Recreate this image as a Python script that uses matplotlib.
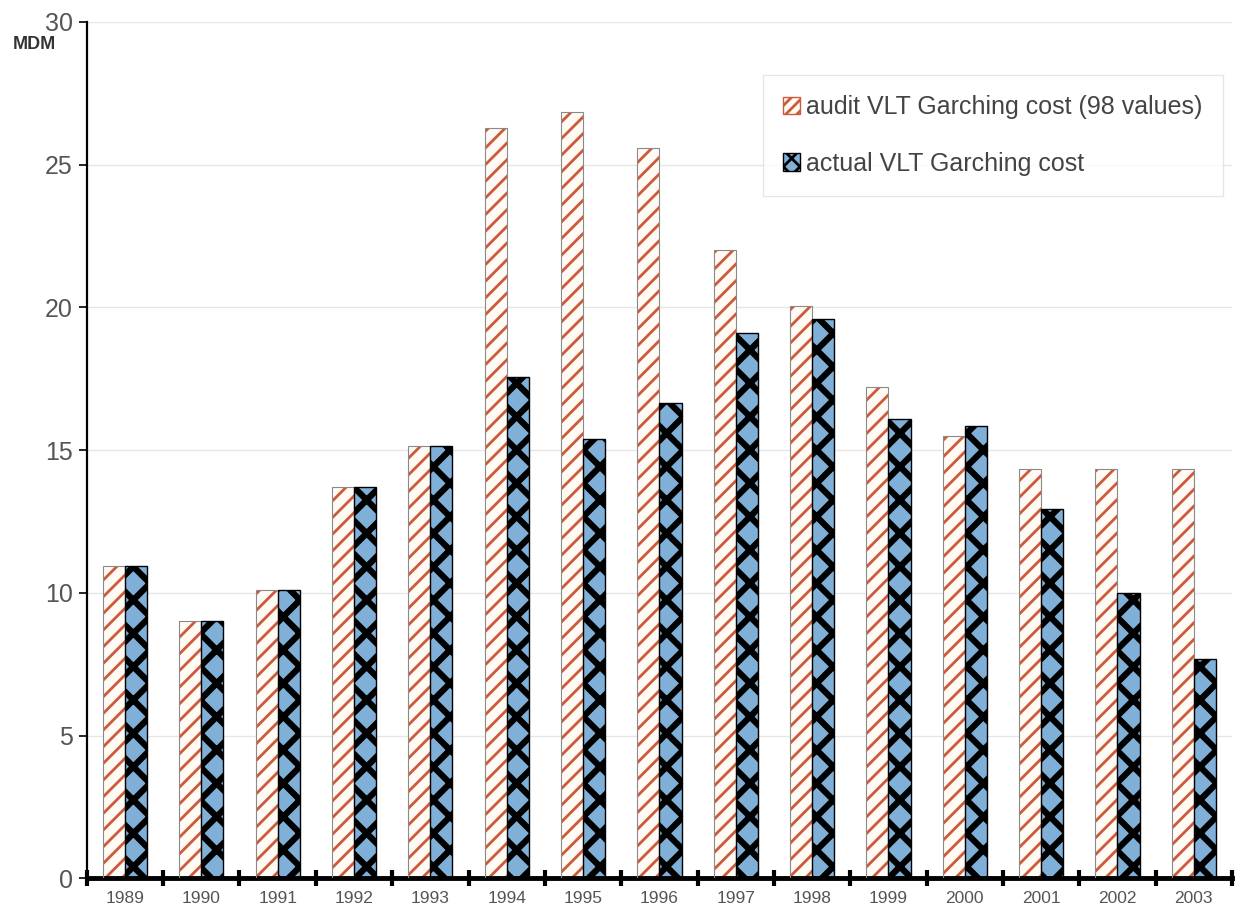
import numpy as np
import matplotlib.pyplot as plt
from matplotlib.patches import Patch

# data (MDM)
years = ["1989", "1990", "1991", "1992", "1993", "1994", "1995", "1996",
         "1997", "1998", "1999", "2000", "2001", "2002", "2003"]
audit_cost = [10.95, 9.0, 10.1, 13.7, 15.15, 26.3, 26.85, 25.6,
              22.0, 20.05, 17.2, 15.5, 14.35, 14.35, 14.35]
actual_cost = [10.95, 9.0, 10.1, 13.7, 15.15, 17.55, 15.4, 16.65,
               19.1, 19.6, 16.1, 15.85, 12.95, 10.0, 7.7]

plt.rcParams["font.family"] = ["Liberation Sans", "DejaVu Sans"]
plt.rcParams["hatch.linewidth"] = 2.0


def thick_hatch(artists, lw):
    # per-artist hatch width where matplotlib supports it
    for a in artists:
        if hasattr(a, "set_hatch_linewidth"):
            a.set_hatch_linewidth(lw)


fig = plt.figure(figsize=(12.4, 9.15), dpi=100)
ax = fig.add_axes([0.070, 0.040, 0.9235, 0.936])

x = np.arange(len(years))
w = 0.29

# audit bars: white with red diagonal stripes
ax.bar(x - w / 2, audit_cost, w, color="#fffaf3", edgecolor="#cc5a3c",
       hatch="//", linewidth=0, zorder=2)
ax.bar(x - w / 2, audit_cost, w, fill=False, edgecolor="#8a8a8a",
       linewidth=0.8, zorder=3)

# actual bars: blue dots on black
act = ax.bar(x + w / 2, actual_cost, w, color="#80b0d8", edgecolor="black",
             hatch="x", linewidth=0, zorder=2)
thick_hatch(act, 4.5)
ax.bar(x + w / 2, actual_cost, w, fill=False, edgecolor="black",
       linewidth=1.0, zorder=3)

ax.set_xlim(-0.5, len(years) - 0.5)
ax.set_ylim(0, 30)
ax.set_yticks(range(0, 31, 5))
ax.yaxis.grid(True, color="#e6e6e6", linewidth=1)
ax.set_axisbelow(True)

# category labels centered, tick marks between groups
ax.set_xticks(np.arange(-0.5, len(years), 1.0))
ax.set_xticklabels([])
ax.set_xticks(x, minor=True)
ax.set_xticklabels(years, minor=True, fontsize=12.5, color="#555555")
ax.tick_params(axis="x", which="minor", length=0, pad=9)
ax.tick_params(axis="x", which="major", direction="inout", length=11,
               width=3, color="black")
ax.tick_params(axis="y", direction="out", length=6, width=1.2,
               labelsize=18, labelcolor="#555555", pad=4)

for side in ("top", "right"):
    ax.spines[side].set_visible(False)
ax.spines["left"].set_linewidth(1.6)
ax.spines["bottom"].set_linewidth(3.5)

fig.text(0.010, 0.946, "MDM", fontsize=13, fontweight="bold", color="#333333")

handles = [
    Patch(facecolor="#fffaf3", edgecolor="#cc5a3c", hatch="///",
          label="audit VLT Garching cost (98 values)"),
    Patch(facecolor="#80b0d8", edgecolor="black", hatch="xx",
          label="actual VLT Garching cost"),
]
leg = ax.legend(handles=handles, loc="upper right",
                bbox_to_anchor=(0.992, 0.938), fontsize=18,
                frameon=True, fancybox=False, borderpad=0.8,
                labelspacing=1.3, handlelength=0.7, handleheight=0.7,
                handletextpad=0.25, borderaxespad=0)
leg.get_frame().set_edgecolor("#e0e0e0")
leg.get_frame().set_linewidth(1)
for t in leg.get_texts():
    t.set_color("#444444")

fig.savefig("out.png", dpi=100)
